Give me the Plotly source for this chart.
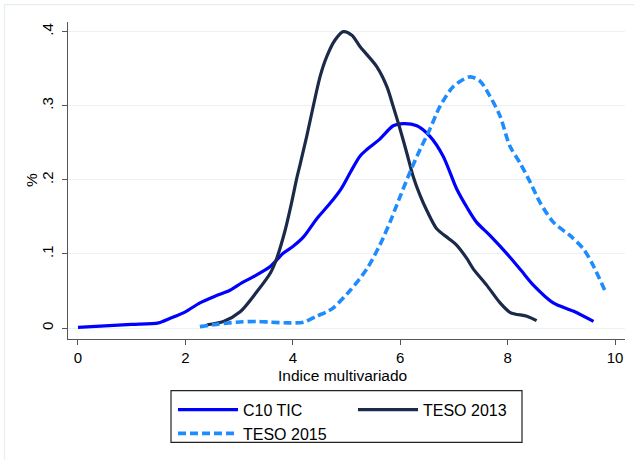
import plotly.graph_objects as go

# ---- data ----
c10_x = [0, 0.5, 1.0, 1.5, 1.71, 2.0, 2.27, 2.55, 2.83, 3.05, 3.26, 3.58, 3.82, 4.0, 4.2,
         4.44, 4.69, 4.9, 5.07, 5.25, 5.38, 5.62, 5.87, 6.06, 6.31, 6.55, 6.8, 7.05, 7.25,
         7.42, 7.67, 8.04, 8.25, 8.48, 8.85, 9.22, 9.6]
c10_y = [0.001, 0.003, 0.005, 0.007, 0.013, 0.022, 0.034, 0.043, 0.051, 0.061, 0.069, 0.083,
         0.101, 0.110, 0.123, 0.147, 0.168, 0.188, 0.21, 0.232, 0.241, 0.255, 0.273, 0.276,
         0.273, 0.259, 0.232, 0.188, 0.162, 0.143, 0.125, 0.096, 0.078, 0.058, 0.034, 0.023,
         0.009]

t13_x = [2.4, 2.71, 3.02, 3.33, 3.58, 3.70, 3.85, 3.98, 4.07, 4.13, 4.26, 4.38, 4.51, 4.63,
         4.79, 4.94, 5.10, 5.25, 5.38, 5.56, 5.75, 5.87, 6.0, 6.12, 6.24, 6.37, 6.5, 6.68,
         6.9, 7.05, 7.24, 7.36, 7.61, 7.86, 8.05, 8.36, 8.54]
t13_y = [0.0045, 0.009, 0.022, 0.049, 0.074, 0.094, 0.130, 0.170, 0.201, 0.219, 0.259, 0.299,
         0.340, 0.366, 0.389, 0.400, 0.395, 0.38, 0.369, 0.353, 0.326, 0.299, 0.268, 0.237,
         0.205, 0.179, 0.158, 0.134, 0.121, 0.112, 0.094, 0.080, 0.058, 0.034, 0.021, 0.016,
         0.010]

t15_x = [2.27, 2.58, 2.95, 3.33, 3.58, 3.95, 4.2, 4.44, 4.63, 4.75, 5.07, 5.38, 5.62, 5.81,
         5.93, 6.18, 6.37, 6.55, 6.74, 6.99, 7.3, 7.49, 7.67, 7.86, 8.04, 8.23, 8.42, 8.6,
         8.85, 9.16, 9.41, 9.59, 9.81]
t15_y = [0.002, 0.005, 0.008, 0.009, 0.008, 0.007, 0.008, 0.016, 0.022, 0.027, 0.051, 0.080,
         0.112, 0.143, 0.165, 0.21, 0.241, 0.268, 0.299, 0.326, 0.339, 0.333, 0.313, 0.286,
         0.246, 0.223, 0.197, 0.170, 0.143, 0.125, 0.107, 0.085, 0.051]

x_ticks = [0, 2, 4, 6, 8, 10]
y_ticks = [0, 0.1, 0.2, 0.3, 0.4]
y_tick_labels = ["0", ".1", ".2", ".3", ".4"]
x_title = "Indice multivariado"
y_title = "%"

FONT = "Liberation Sans, Arial, sans-serif"
W, H = 634, 460
L, R, T, B = 68, 9, 22, 119
PW, PH = W - L - R, H - T - B


def px_x(p):
    return (p - L) / PW


def px_y(p):
    return (H - B - p) / PH


fig = go.Figure()
fig.add_trace(go.Scatter(x=c10_x, y=c10_y, mode="lines", name="C10 TIC",
                         line=dict(color="#0000ff", width=3.2, shape="spline", smoothing=0.8),
                         legend="legend"))
fig.add_trace(go.Scatter(x=t13_x, y=t13_y, mode="lines", name="TESO 2013",
                         line=dict(color="#1c2a4a", width=3.2, shape="spline", smoothing=0.8),
                         legend="legend2"))
fig.add_trace(go.Scatter(x=t15_x, y=t15_y, mode="lines", name="TESO 2015",
                         line=dict(color="#1e8cff", width=3.6, dash="8px,4px",
                                   shape="spline", smoothing=0.8),
                         legend="legend"))

axis_col = "#555555"
fig.update_layout(
    width=W, height=H,
    margin=dict(l=L, r=R, t=T, b=B),
    paper_bgcolor="white", plot_bgcolor="white",
    font=dict(family=FONT, color="black", size=15),
    xaxis=dict(range=[-0.186, 10.186], tickvals=x_ticks, showgrid=False, zeroline=False,
               showline=True, linecolor=axis_col, linewidth=1.3,
               ticks="outside", ticklen=5, tickcolor=axis_col, tickwidth=1.3,
               tickfont=dict(size=15), automargin=False, ticklabelstandoff=0),
    yaxis=dict(range=[-0.0147, 0.413], tickvals=y_ticks, ticktext=y_tick_labels,
               showgrid=True, gridcolor="#eaf2f3", gridwidth=1.3, zeroline=False,
               showline=True, linecolor=axis_col, linewidth=1.3,
               ticks="outside", ticklen=5, tickcolor=axis_col, tickwidth=1.3,
               tickangle=-90, tickfont=dict(size=15), ticklabelstandoff=3,
               automargin=False),
    annotations=[
        dict(text=x_title, xref="paper", yref="paper", x=px_x(342.5), y=px_y(378),
             xanchor="center", yanchor="middle", showarrow=False, font=dict(size=15.5)),
        dict(text=y_title, xref="paper", yref="paper", x=px_x(31.5), y=px_y(181.5),
             xanchor="center", yanchor="middle", showarrow=False, textangle=-90,
             font=dict(size=15.5)),
    ],
    legend=dict(x=px_x(173), y=px_y(395), xanchor="left", yanchor="top",
                orientation="v", bgcolor="rgba(0,0,0,0)", borderwidth=0,
                font=dict(size=16), itemwidth=60, tracegroupgap=0),
    legend2=dict(x=px_x(353), y=px_y(395), xanchor="left", yanchor="top",
                 orientation="v", bgcolor="rgba(0,0,0,0)", borderwidth=0,
                 font=dict(size=16), itemwidth=60),
    shapes=[
        dict(type="rect", xref="paper", yref="paper",
             x0=px_x(171), x1=px_x(522), y0=px_y(445), y1=px_y(393),
             line=dict(color="#222222", width=1.2), fillcolor="rgba(0,0,0,0)"),
        dict(type="rect", xref="paper", yref="paper",
             x0=px_x(4.5), x1=px_x(650), y0=px_y(480), y1=px_y(4.5),
             line=dict(color="#e6eef0", width=1.2), fillcolor="rgba(0,0,0,0)", layer="below"),
    ],
)

fig.write_html("out.html", config={"displayModeBar": False},
               post_script="document.body.style.margin='0';document.body.style.overflow='hidden';")
